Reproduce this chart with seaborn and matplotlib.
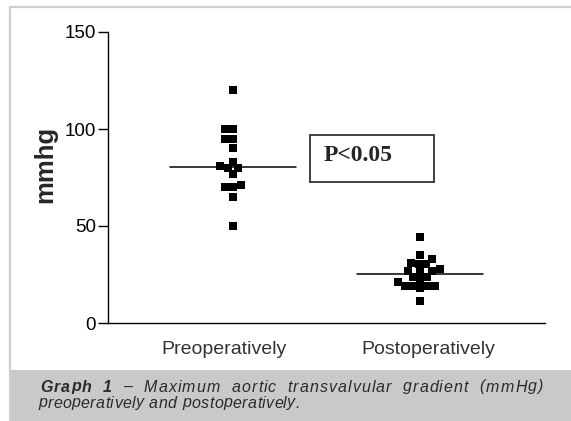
import numpy as np
import pandas as pd
import matplotlib
matplotlib.use("Agg")
import matplotlib.pyplot as plt
import seaborn as sns
from matplotlib.patches import Rectangle
from matplotlib.lines import Line2D

# Data (mmHg)

groups = ["Preoperatively", "Postoperatively"]

pre_values = [120, 100, 100, 95, 95, 90, 81, 80, 83, 80,
              77, 71, 70, 70, 65, 50]

post_values = [44.5, 35, 33, 30.2, 30.2, 31.1, 27, 26.4, 27, 27.8,
               23.9, 23.9, 21, 22.2, 19.1, 19.1, 17.9, 19.1, 19.1, 11.3]

y_ticks = [0, 50, 100, 150]

df = pd.DataFrame({
    "group": [groups[0]] * len(pre_values) + [groups[1]] * len(post_values),
    "value": pre_values + post_values
})

# Figure

sns.set_theme(style="ticks")
plt.rcParams["font.family"] = ["Liberation Sans", "DejaVu Sans"]

fig = plt.figure(figsize=(5.71, 4.21), dpi=100)
fig.patch.set_facecolor("white")

# frame and caption background
W, H = 571, 421
fig.add_artist(Rectangle((10 / W, 0), 1 - 10 / W, 51 / H,
                         transform=fig.transFigure,
                         facecolor="#c8c9cb", edgecolor="none"))
fig.add_artist(Line2D([10 / W, 10 / W], [0, 1 - 7 / H],
                      transform=fig.transFigure, color="#cfcfcf", lw=1.6))
fig.add_artist(Line2D([10 / W, 1], [1 - 7 / H, 1 - 7 / H],
                      transform=fig.transFigure, color="#cfcfcf", lw=1.6))

ax = fig.add_axes([108 / W, 98 / H, 437 / W, 291 / H])
ax.set_facecolor("none")

sns.swarmplot(
    data=df,
    x="group",
    y="value",
    order=groups,
    marker="s",
    color="black",
    size=5.4,
    linewidth=0,
    ax=ax
)

# median lines
for i, vals in enumerate([pre_values, post_values]):
    med = np.median(vals)
    ax.plot([i - 0.337, i + 0.337], [med, med], color="black", lw=1.1, zorder=1)

ax.set_xlim(-0.668, 1.668)
ax.set_ylim(0, 150)
ax.set_yticks(y_ticks)
ax.set_xticks([-0.048, 1.043])
ax.set_xticklabels(groups)
ax.tick_params(axis="y", labelsize=13.5, length=7, width=1, color="black",
               labelcolor="black", pad=1.5)
ax.tick_params(axis="x", length=0, labelsize=14, labelcolor="#333333", pad=13)
ax.set_xlabel("")
ax.set_ylabel("mmhg", fontsize=18.5, fontweight="bold")
ax.yaxis.set_label_coords(-0.117, 0.546)

sns.despine(ax=ax)
for side in ["left", "bottom"]:
    ax.spines[side].set_color("black")
    ax.spines[side].set_linewidth(1)

# P value box
ax.add_patch(Rectangle((0.462, 0.4845), 0.284, 0.1615,
                       transform=ax.transAxes, facecolor="white",
                       edgecolor="#333333", lw=1.3, zorder=3))
ax.text(
    0.494, 0.577, "P<0.05",
    transform=ax.transAxes,
    fontsize=17,
    fontweight="bold",
    family=["Liberation Serif", "DejaVu Serif"],
    va="center",
    ha="left",
    zorder=4
)

# Caption, each line spread to a given width
fig.canvas.draw()
renderer = fig.canvas.get_renderer()

cap_color = "#2b2b2b"
cap_size = 11.5


def spread_text(text, y, x_left, x_right, n_bold=0, space_weight=4.5):
    chars = []
    for k, ch in enumerate(text):
        t = fig.text(0, y, ch, fontsize=cap_size, style="italic",
                     fontweight="bold" if k < n_bold else "normal",
                     color=cap_color, va="center", ha="left")
        chars.append(t)

    p1 = fig.text(0, 0, "a a", fontsize=cap_size, style="italic")
    p2 = fig.text(0, 0, "aa", fontsize=cap_size, style="italic")
    sw = (p1.get_window_extent(renderer).width
          - p2.get_window_extent(renderer).width) / W
    p1.remove()
    p2.remove()

    widths = []
    for ch, t in zip(text, chars):
        if ch == " ":
            widths.append(sw)
        else:
            widths.append(t.get_window_extent(renderer).width / W)

    n_gaps = len(chars) - 1
    n_spaces = text.count(" ")
    free = x_right - x_left - sum(widths)
    g = free / (n_gaps + space_weight * n_spaces)
    x = x_left
    for ch, t, w in zip(text, chars, widths):
        t.set_x(x)
        x += w + g + (space_weight * g if ch == " " else 0)


spread_text("Graph 1 – Maximum aortic transvalvular gradient (mmHg)",
            1 - 387 / H, 40 / W, 543 / W, n_bold=7)
spread_text("preoperatively and postoperatively.",
            1 - 403 / H, 38 / W, 300 / W, space_weight=1.0)

plt.savefig("out.png", dpi=100)
